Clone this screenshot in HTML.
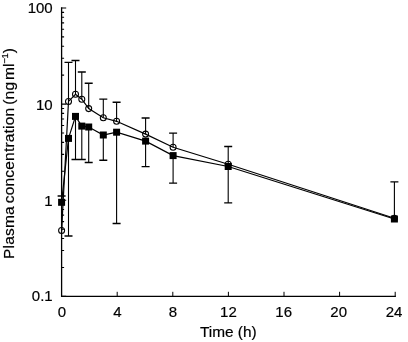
<!DOCTYPE html><html><head><meta charset="utf-8"><style>html,body{margin:0;padding:0;background:#fff;}body{width:408px;height:342px;overflow:hidden;position:relative;}svg{position:absolute;left:0;top:0;will-change:transform;}text{font-family:"Liberation Sans",sans-serif;fill:#000;stroke:#000;stroke-width:0.2px;}</style></head><body>
<svg width="408" height="342" viewBox="0 0 408 342">
<path d="M61.6 7.35 V296.4 H395.9" fill="none" stroke="#000" stroke-width="1.3"/>
<path d="M61.6 267.46H64.1M61.6 250.52H64.1M61.6 238.51H64.1M61.6 229.19H64.1M61.6 221.58H64.1M61.6 215.14H64.1M61.6 209.57H64.1M61.6 204.65H64.1M61.6 171.31H64.1M61.6 154.37H64.1M61.6 142.36H64.1M61.6 133.04H64.1M61.6 125.43H64.1M61.6 118.99H64.1M61.6 113.42H64.1M61.6 108.50H64.1M61.6 75.16H64.1M61.6 58.22H64.1M61.6 46.21H64.1M61.6 36.89H64.1M61.6 29.28H64.1M61.6 22.84H64.1M61.6 17.27H64.1M61.6 12.35H64.1M61.6 296.40H66.2M61.6 200.25H66.2M61.6 104.10H66.2M61.6 7.95H66.2" fill="none" stroke="#000" stroke-width="1.1"/>
<path d="M117.20 296.4V291.8M172.80 296.4V291.8M228.40 296.4V291.8M284.00 296.4V291.8M339.60 296.4V291.8M395.20 296.4V291.8" fill="none" stroke="#000" stroke-width="1"/>
<text x="52.7" y="13.35" font-size="15" text-anchor="end">100</text>
<text x="52.7" y="109.50" font-size="15" text-anchor="end">10</text>
<text x="52.7" y="205.65" font-size="15" text-anchor="end">1</text>
<text x="52.7" y="301.00" font-size="15" text-anchor="end">0.1</text>
<text x="62.00" y="316.6" font-size="15" text-anchor="middle">0</text>
<text x="117.40" y="316.6" font-size="15" text-anchor="middle">4</text>
<text x="172.80" y="316.6" font-size="15" text-anchor="middle">8</text>
<text x="228.40" y="316.6" font-size="15" text-anchor="middle">12</text>
<text x="283.70" y="316.6" font-size="15" text-anchor="middle">16</text>
<text x="338.70" y="316.6" font-size="15" text-anchor="middle">20</text>
<text x="394.00" y="316.6" font-size="15" text-anchor="middle">24</text>
<text x="199.9" y="336.6" font-size="15.4">Time (h)</text>
<text transform="translate(14.3 258.96) rotate(-90)" font-size="15.5" letter-spacing="0.2" word-spacing="-1.7">Plasma concentration (ng <tspan dx="-1">ml</tspan></text>
<text transform="translate(7.8 63.6) rotate(-90)" font-size="9.5" letter-spacing="-0.5">−1</text>
<text transform="translate(14.3 53.35) rotate(-90)" font-size="15.5">)</text>
<path d="M61.60 230.50V196.00M68.50 101.40V62.40M68.50 138.40V236.00M75.50 94.30V60.50M75.50 116.40V159.50M81.80 99.20V72.00M81.80 126.10V159.50M88.70 108.60V83.30M88.70 127.00V162.50M103.30 117.80V99.10M103.30 135.00V160.30M116.60 121.30V102.30M116.60 132.20V223.50M145.60 134.10V118.00M145.60 141.10V166.60M173.10 147.20V133.10M173.10 155.60V183.10M228.20 164.30V146.50M228.20 166.50V202.90M394.40 218.30V181.90" fill="none" stroke="#000" stroke-width="1.1"/>
<path d="M57.60 196.00H65.60M64.50 62.40H72.50M64.50 236.00H72.50M71.50 60.50H79.50M71.50 159.50H79.50M77.80 72.00H85.80M77.80 159.50H85.80M84.70 83.30H92.70M84.70 162.50H92.70M99.30 99.10H107.30M99.30 160.30H107.30M112.60 102.30H120.60M112.60 223.50H120.60M141.60 118.00H149.60M141.60 166.60H149.60M169.10 133.10H177.10M169.10 183.10H177.10M224.20 146.50H232.20M224.20 202.90H232.20M390.40 181.90H398.40" fill="none" stroke="#000" stroke-width="1.4"/>
<polyline points="61.60,230.50 68.50,101.40 75.50,94.30 81.80,99.20 88.70,108.60 103.30,117.80 116.60,121.30 145.60,134.10 173.10,147.20 228.20,164.30 394.40,218.30" fill="none" stroke="#000" stroke-width="1.2"/>
<polyline points="61.60,202.30 68.50,138.40 75.50,116.40 81.80,126.10 88.70,127.00 103.30,135.00 116.60,132.20 145.60,141.10 173.10,155.60 228.20,166.50 394.40,219.00" fill="none" stroke="#000" stroke-width="1.2"/>
<circle cx="61.60" cy="230.50" r="3" fill="none" stroke="#000" stroke-width="1.05"/>
<circle cx="68.50" cy="101.40" r="3" fill="none" stroke="#000" stroke-width="1.05"/>
<circle cx="75.50" cy="94.30" r="3" fill="none" stroke="#000" stroke-width="1.05"/>
<circle cx="81.80" cy="99.20" r="3" fill="none" stroke="#000" stroke-width="1.05"/>
<circle cx="88.70" cy="108.60" r="3" fill="none" stroke="#000" stroke-width="1.05"/>
<circle cx="103.30" cy="117.80" r="3" fill="none" stroke="#000" stroke-width="1.05"/>
<circle cx="116.60" cy="121.30" r="3" fill="none" stroke="#000" stroke-width="1.05"/>
<circle cx="145.60" cy="134.10" r="3" fill="none" stroke="#000" stroke-width="1.05"/>
<circle cx="173.10" cy="147.20" r="3" fill="none" stroke="#000" stroke-width="1.05"/>
<circle cx="228.20" cy="164.30" r="3" fill="none" stroke="#000" stroke-width="1.05"/>
<circle cx="394.40" cy="218.30" r="3" fill="none" stroke="#000" stroke-width="1.05"/>
<rect x="58.10" y="198.80" width="7.0" height="7.0" fill="#000"/>
<rect x="65.00" y="134.90" width="7.0" height="7.0" fill="#000"/>
<rect x="72.00" y="112.90" width="7.0" height="7.0" fill="#000"/>
<rect x="78.30" y="122.60" width="7.0" height="7.0" fill="#000"/>
<rect x="85.20" y="123.50" width="7.0" height="7.0" fill="#000"/>
<rect x="99.80" y="131.50" width="7.0" height="7.0" fill="#000"/>
<rect x="113.10" y="128.70" width="7.0" height="7.0" fill="#000"/>
<rect x="142.10" y="137.60" width="7.0" height="7.0" fill="#000"/>
<rect x="169.60" y="152.10" width="7.0" height="7.0" fill="#000"/>
<rect x="224.70" y="163.00" width="7.0" height="7.0" fill="#000"/>
<rect x="390.90" y="215.50" width="7.0" height="7.0" fill="#000"/>
</svg></body></html>
